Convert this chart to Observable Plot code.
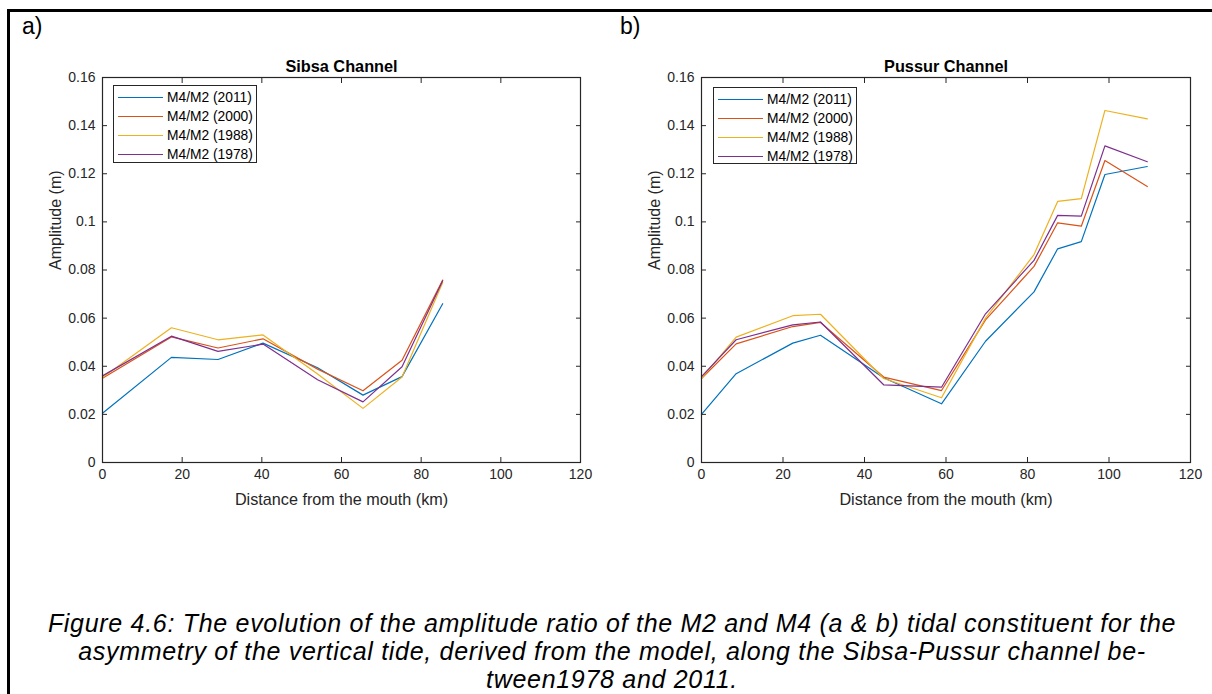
<!DOCTYPE html>
<html>
<head>
<meta charset="utf-8">
<script src="https://cdn.jsdelivr.net/npm/d3@7"></script>
<script src="https://cdn.jsdelivr.net/npm/@observablehq/plot@0.6"></script>
<style>
  html, body { margin: 0; padding: 0; background: #fff; }
  #root { position: relative; width: 1212px; height: 694px; overflow: hidden; font-family: "Liberation Sans", Arial, sans-serif; }
  #border { position: absolute; left: 7px; top: 9px; width: 1300px; height: 800px; border-top: 3px solid #000; border-left: 3px solid #000; }
  .panel { position: absolute; top: 50px; }
  .tag { position: absolute; top: 13px; font-size: 23px; color: #000; }
  .legend { position: absolute; background: #fff; border: 1px solid #262626; font-size: 13.8px; color: #000; padding: 2px 0 0 0; box-sizing: border-box; }
  .legend .row { height: 19px; display: flex; align-items: center; white-space: nowrap; }
  .legend .sw { display: inline-block; width: 45px; height: 1.3px; margin: 0 4px 0 4px; }
  #caption { position: absolute; left: 0; width: 1224px; top: 609px; text-align: center; font-style: italic; font-size: 25px; letter-spacing: 0.7px; line-height: 28px; color: #000; white-space: nowrap; }
</style>
</head>
<body>
<div id="root">
  <div id="border"></div>
  <div class="tag" style="left:22px">a)</div>
  <div class="tag" style="left:620px">b)</div>
  <div id="left" class="panel" style="left:0px"></div>
  <div id="right" class="panel" style="left:600px"></div>
  <div id="legL" class="legend" style="left:113px; top:85px; width:144px; height:78px"></div>
  <div id="legR" class="legend" style="left:713px; top:87px; width:144px; height:77px"></div>
  <div id="caption">Figure 4.6: The evolution of the amplitude ratio of the M2 and M4 (a &amp; b) tidal constituent for the<br>asymmetry of the vertical tide, derived from the model, along the Sibsa-Pussur channel be-<br>tween1978 and 2011.</div>
</div>
<script>
// ---- data ----
const years = ["2011", "2000", "1988", "1978"];
const seriesLabels = ["M4/M2 (2011)", "M4/M2 (2000)", "M4/M2 (1988)", "M4/M2 (1978)"];
const seriesColors = ["#0072BD", "#D95319", "#EDB120", "#7E2F8E"];

const sibsaKm   = [0, 17.3, 29.0, 40.3, 54.0, 65.4, 75.2, 85.4];
const sibsa2011 = [0.0205, 0.0437, 0.0428, 0.0496, 0.0394, 0.0280, 0.0357, 0.0660];
const sibsa2000 = [0.0350, 0.0522, 0.0476, 0.0514, 0.0388, 0.0298, 0.0425, 0.0758];
const sibsa1988 = [0.0353, 0.0560, 0.0510, 0.0530, 0.0368, 0.0225, 0.0355, 0.0748];
const sibsa1978 = [0.0360, 0.0525, 0.0462, 0.0492, 0.0344, 0.0252, 0.0398, 0.0755];

const pussurKm   = [0, 8.5, 22.4, 29.2, 44.7, 58.9, 69.7, 81.6, 87.4, 93.2, 99.0, 109.4];
const pussur2011 = [0.0200, 0.0369, 0.0496, 0.0529, 0.0352, 0.0244, 0.0504, 0.0709, 0.0888, 0.0918, 0.1197, 0.1230];
const pussur2000 = [0.0349, 0.0493, 0.0565, 0.0582, 0.0355, 0.0299, 0.0593, 0.0815, 0.0996, 0.0982, 0.1255, 0.1147];
const pussur1988 = [0.0350, 0.0521, 0.0610, 0.0616, 0.0349, 0.0269, 0.0600, 0.0864, 0.1085, 0.1097, 0.1463, 0.1428];
const pussur1978 = [0.0357, 0.0510, 0.0572, 0.0584, 0.0323, 0.0313, 0.0618, 0.0840, 0.1027, 0.1024, 0.1316, 0.1250];

const xTicks = [0, 20, 40, 60, 80, 100, 120];
const yTicks = [0, 0.02, 0.04, 0.06, 0.08, 0.1, 0.12, 0.14, 0.16];

function table(km, arrs) {
  const rows = [];
  arrs.forEach((vals, i) => vals.forEach((v, j) => rows.push({km: km[j], amp: v, year: years[i]})));
  return rows;
}

const fmt = d => String(+d.toFixed(2));
const FONT = '"Liberation Sans", Arial, sans-serif';

function panel(rows, title, width, marginLeft, marginRight) {
  const axisColor = "#262626";
  return Plot.plot({
    width, height: 470,
    marginLeft, marginRight, marginTop: 27, marginBottom: 58,
    style: {fontFamily: FONT, fontSize: "14px", color: axisColor, background: "transparent", overflow: "visible"},
    x: {domain: [0, 120]},
    y: {domain: [0, 0.16]},
    color: {domain: years, range: seriesColors},
    marks: [
      Plot.line(rows, {x: "km", y: "amp", z: "year", stroke: "year", strokeWidth: 1.2}),
      Plot.frame({stroke: axisColor, strokeWidth: 1.2}),
      Plot.axisX(xTicks, {anchor: "bottom", tickSize: -5, tickPadding: 12, tickFormat: fmt, label: null, stroke: axisColor, fill: axisColor, fontSize: 14}),
      Plot.axisX(xTicks, {anchor: "top", tickSize: -5, tickFormat: () => "", label: null, stroke: axisColor}),
      Plot.axisY(yTicks, {anchor: "left", tickSize: -5, tickPadding: 12, tickFormat: fmt, label: null, stroke: axisColor, fill: axisColor, fontSize: 14}),
      Plot.axisY(yTicks, {anchor: "right", tickSize: -5, tickFormat: () => "", label: null, stroke: axisColor}),
      Plot.text([title], {frameAnchor: "top", lineAnchor: "bottom", dy: -6, fontWeight: "bold", fontSize: 16.3, fill: "#000"}),
      Plot.text(["Distance from the mouth (km)"], {frameAnchor: "bottom", lineAnchor: "middle", dy: 37, fontSize: 16.2, fill: axisColor}),
      Plot.text(["Amplitude (m)"], {frameAnchor: "left", rotate: -90, lineAnchor: "middle", dx: -47, fontSize: 16, fill: axisColor})
    ]
  });
}

document.getElementById("left").appendChild(
  panel(table(sibsaKm, [sibsa2011, sibsa2000, sibsa1988, sibsa1978]), "Sibsa Channel", 600, 102, 20));
document.getElementById("right").appendChild(
  panel(table(pussurKm, [pussur2011, pussur2000, pussur1988, pussur1978]), "Pussur Channel", 612, 101, 22));

for (const id of ["legL", "legR"]) {
  const el = document.getElementById(id);
  seriesLabels.forEach((lab, i) => {
    const row = document.createElement("div");
    row.className = "row";
    const sw = document.createElement("span");
    sw.className = "sw";
    sw.style.background = seriesColors[i];
    const t = document.createElement("span");
    t.textContent = lab;
    row.appendChild(sw); row.appendChild(t);
    el.appendChild(row);
  });
}
</script>
</body>
</html>
